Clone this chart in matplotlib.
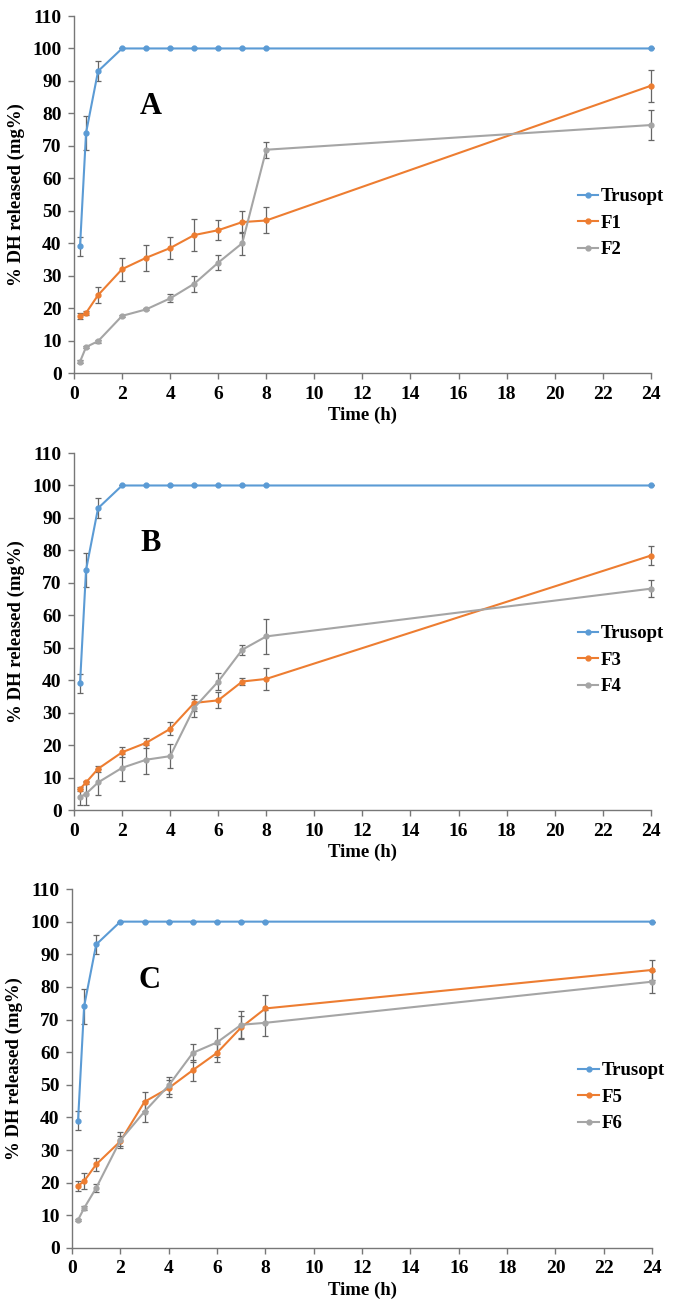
import matplotlib.pyplot as plt

# sampling times (h)
time = [0.25, 0.5, 1, 2, 3, 4, 5, 6, 7, 8, 24]

# reference product, same in all three panels
trusopt = [39, 74, 93, 100, 100, 100, 100, 100, 100, 100, 100]
trusopt_err = [3, 5.3, 3, 0, 0, 0, 0, 0, 0, 0, 0]

# panel A
f1 = [17.5, 18.5, 24, 32, 35.5, 38.5, 42.5, 44, 46.5, 47, 88.5]
f1_err = [1, 0.6, 2.5, 3.5, 4, 3.5, 5, 3, 3.5, 4, 5]
f2 = [3.5, 8, 9.8, 17.6, 19.6, 23, 27.5, 34, 40, 68.8, 76.4]
f2_err = [0.5, 0.3, 0.5, 0.3, 0.3, 1.2, 2.5, 2.3, 3.5, 2.5, 4.7]

# panel B
f3 = [6.5, 8.5, 12.7, 17.8, 20.7, 25, 33, 33.8, 39.6, 40.4, 78.4]
f3_err = [0.5, 0.5, 1, 1.5, 1.6, 2, 2.5, 2.5, 1, 3.5, 3]
f4 = [4, 5, 8.5, 13, 15.5, 16.6, 31.5, 39.6, 49.4, 53.5, 68.2]
f4_err = [2.5, 3.5, 4, 4.2, 4.5, 3.7, 2.8, 2.5, 1.5, 5.4, 2.7]

# panel C
f5 = [19, 20.5, 25.6, 32.7, 44.8, 49, 54.5, 59.8, 67.6, 73.4, 85.2]
f5_err = [1.4, 2.4, 2, 1.5, 2.9, 2.6, 3.2, 2.8, 3.5, 4.2, 3]
f6 = [8.6, 12.2, 18.4, 33, 41.8, 49.8, 59.8, 63, 68.4, 69, 81.6]
f6_err = [0.4, 0.6, 1.1, 2.5, 3.3, 2.6, 2.7, 4.4, 4.2, 4, 3.4]

panels = [
    ("A", ["Trusopt", "F1", "F2"], [trusopt, f1, f2], [trusopt_err, f1_err, f2_err]),
    ("B", ["Trusopt", "F3", "F4"], [trusopt, f3, f4], [trusopt_err, f3_err, f4_err]),
    ("C", ["Trusopt", "F5", "F6"], [trusopt, f5, f6], [trusopt_err, f5_err, f6_err]),
]

colors = ["#5B9BD5", "#ED7D31", "#A5A5A5"]

plt.rcParams["font.family"] = ["Liberation Serif", "DejaVu Serif"]
plt.rcParams["font.weight"] = "bold"

fig = plt.figure(figsize=(6.73, 13.12), dpi=100)

# axes rectangles in figure fractions
boxes = [
    [0.110, 0.7157, 0.857, 0.2721],
    [0.110, 0.3826, 0.857, 0.2721],
    [0.107, 0.0488, 0.862, 0.2736],
]

for box, (tag, names, series, errs) in zip(boxes, panels):
    ax = fig.add_axes(box)
    for name, y, e, c in zip(names, series, errs, colors):
        eb = ax.errorbar(time, y, yerr=e, fmt="none", ecolor="#666666",
                         elinewidth=0.9, capsize=2.5, capthick=0.9, zorder=1)
        for art in eb.lines[1] + eb.lines[2]:
            art.set_clip_on(False)
        ax.plot(time, y, color=c, lw=1.5, marker="o", ms=3.5, label=name,
                zorder=2, clip_on=False)

    ax.set_xlim(0, 24)
    ax.set_ylim(0, 110)
    ax.set_xticks(range(0, 25, 2))
    ax.set_yticks(range(0, 111, 10))
    ax.tick_params(direction="out", length=4, width=1, color="#777777",
                   labelsize=14, pad=5)
    for lab in ax.get_xticklabels() + ax.get_yticklabels():
        lab.set_fontweight("bold")
    for s in ["top", "right"]:
        ax.spines[s].set_visible(False)
    for s in ["left", "bottom"]:
        ax.spines[s].set_color("#777777")
        ax.spines[s].set_linewidth(1)

    ax.set_xlabel("Time (h)", fontsize=13.5, fontweight="bold", labelpad=3)
    ax.set_ylabel("% DH released (mg%)", fontsize=13.5, fontweight="bold", labelpad=5)

    ax.text(3.2, 82, tag, fontsize=22, fontweight="bold", ha="center", va="center")

    ax.legend(loc="center left", bbox_to_anchor=(0.86, 0.42), frameon=False,
              prop={"size": 13.5, "weight": "bold"}, handlelength=1.1,
              handletextpad=0.15, labelspacing=0.5, borderaxespad=0)

fig.savefig("out.png", dpi=100)
